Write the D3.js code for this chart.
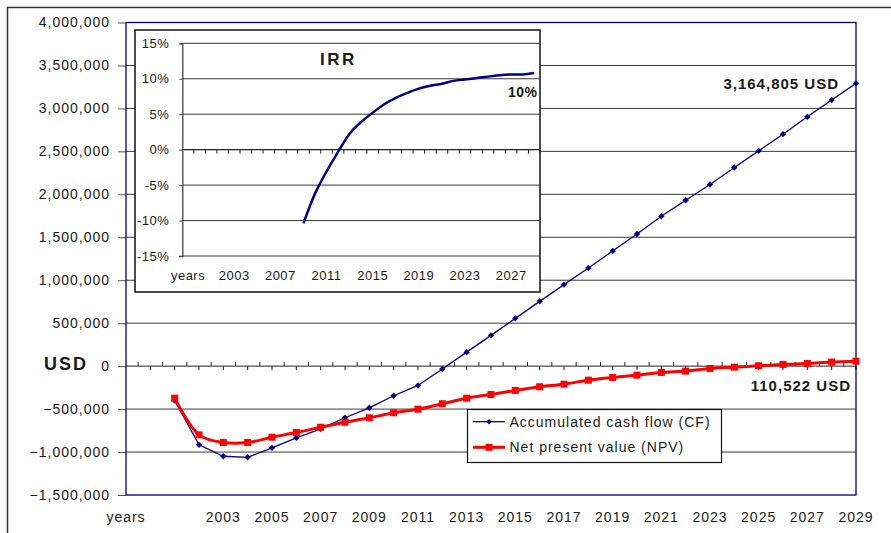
<!DOCTYPE html>
<html>
<head>
<meta charset="utf-8">
<script src="https://cdn.jsdelivr.net/npm/d3@7"></script>
<style>
  body { margin: 0; background: #fff; }
  svg text { font-family: "Liberation Sans", Arial, sans-serif; fill: #1a1a1a; }
</style>
</head>
<body>
<svg width="891" height="533"></svg>
<script>
// categories: first slot is the "years" label, then 2000..2029
const categories = ["years", "2000", "2001", "2002", "2003", "2004", "2005", "2006", "2007", "2008", "2009",
  "2010", "2011", "2012", "2013", "2014", "2015", "2016", "2017", "2018", "2019",
  "2020", "2021", "2022", "2023", "2024", "2025", "2026", "2027", "2028", "2029"];

// main chart series start in 2001
const seriesYears = ["2001", "2002", "2003", "2004", "2005", "2006", "2007", "2008", "2009", "2010",
  "2011", "2012", "2013", "2014", "2015", "2016", "2017", "2018", "2019", "2020",
  "2021", "2022", "2023", "2024", "2025", "2026", "2027", "2028", "2029"];

const cashFlow = [-400000, -916000, -1049000, -1061000, -951000, -834000, -730000, -601000, -485000, -345000,
  -225000, -33000, 163000, 358000, 556000, 754000, 949000, 1142000, 1340000, 1538000,
  1745000, 1931000, 2114000, 2312000, 2506000, 2700000, 2902000, 3097000, 3291000];

const npv = [-373000, -800000, -889000, -889000, -827000, -773000, -711000, -653000, -601000, -543000,
  -501000, -438000, -373000, -330000, -283000, -240000, -210000, -163000, -132000, -105000,
  -73000, -58000, -27000, -12000, 5000, 20000, 31000, 47000, 58000];

// IRR starts in 2009 (percent)
const irrYears = ["2009", "2010", "2011", "2012", "2013", "2014", "2015", "2016", "2017", "2018", "2019",
  "2020", "2021", "2022", "2023", "2024", "2025", "2026", "2027", "2028", "2029"];
const irr = [-10.4, -6.2, -3.1, -0.3, 2.25, 3.9, 5.2, 6.4, 7.3, 8.0, 8.6,
  9.0, 9.3, 9.7, 9.9, 10.1, 10.3, 10.5, 10.6, 10.6, 10.8];

const yTicks = [-1500000, -1000000, -500000, 0, 500000, 1000000, 1500000, 2000000, 2500000, 3000000, 3500000, 4000000];
const xTickLabels = ["years", "2003", "2005", "2007", "2009", "2011", "2013", "2015", "2017", "2019",
  "2021", "2023", "2025", "2027", "2029"];
const irrTicks = [-15, -10, -5, 0, 5, 10, 15];
const irrTickLabels = ["years", "2003", "2007", "2011", "2015", "2019", "2023", "2027"];

const legendLabels = ["Accumulated cash flow (CF)", "Net present value (NPV)"];

const svg = d3.select("svg");
const navy = "#000080";
const red = "#ff0000";
const grid = "#3a3a3a";

// outer chart frame
svg.append("rect")
  .attr("x", 7.5).attr("y", 7.5)
  .attr("width", 1000).attr("height", 1000)
  .attr("fill", "none")
  .attr("stroke", "#333")
  .attr("stroke-width", 1.5);

const plot = { left: 126, right: 856, top: 22.5, bottom: 495 };

const x = d3.scalePoint().domain(categories).range([plot.left, plot.right]);
const y = d3.scaleLinear().domain([-1500000, 4000000]).range([plot.bottom, plot.top]);
const step = x.step();

// gridlines
svg.append("g")
  .selectAll("line")
  .data(yTicks.filter((d) => d !== 0 && d !== -1500000 && d !== 4000000))
  .enter()
  .append("line")
  .attr("x1", plot.left).attr("x2", plot.right)
  .attr("y1", (d) => y(d)).attr("y2", (d) => y(d))
  .attr("stroke", grid)
  .attr("stroke-width", 1);

// y axis labels and ticks
const yAxis = svg.append("g")
  .attr("transform", `translate(${plot.left},0)`)
  .call(d3.axisLeft(y).tickValues(yTicks).tickSize(8).tickPadding(8).tickFormat(d3.format(",")));
yAxis.select(".domain").remove();
yAxis.selectAll(".tick line").attr("stroke", "#555");
yAxis.selectAll("text")
  .style("font-size", "14px")
  .style("letter-spacing", "1px")
  .attr("font-family", null)
  .attr("fill", "#1a1a1a");

// zero line with ticks
svg.append("line")
  .attr("x1", plot.left).attr("x2", plot.right)
  .attr("y1", y(0)).attr("y2", y(0))
  .attr("stroke", "#222");
svg.append("g")
  .selectAll("line")
  .data(categories.slice(1))
  .enter()
  .append("line")
  .attr("x1", (d) => x(d)).attr("x2", (d) => x(d))
  .attr("y1", y(0)).attr("y2", y(0) + 4)
  .attr("stroke", "#222");
svg.append("g")
  .selectAll("line")
  .data(categories.slice(1))
  .enter()
  .append("line")
  .attr("x1", (d) => x(d) - step / 2).attr("x2", (d) => x(d) - step / 2)
  .attr("y1", y(0) - 4).attr("y2", y(0))
  .attr("stroke", "#222");

// plot border
svg.append("rect")
  .attr("x", plot.left).attr("y", plot.top)
  .attr("width", plot.right - plot.left).attr("height", plot.bottom - plot.top)
  .attr("fill", "none")
  .attr("stroke", navy)
  .attr("stroke-width", 1.3);

// x labels
svg.append("g")
  .selectAll("text")
  .data(xTickLabels)
  .enter()
  .append("text")
  .attr("x", (d) => x(d))
  .attr("y", 522)
  .attr("text-anchor", "middle")
  .style("font-size", "14px")
  .style("letter-spacing", "1px")
  .text((d) => d);

// USD axis title
svg.append("text")
  .attr("x", 44).attr("y", 370)
  .style("font-size", "18px")
  .style("font-weight", "bold")
  .style("letter-spacing", "2px")
  .text("USD");

// series
const cfData = seriesYears.map((yr, i) => ({ year: yr, value: cashFlow[i] }));
const npvData = seriesYears.map((yr, i) => ({ year: yr, value: npv[i] }));

svg.append("path")
  .datum(cfData)
  .attr("fill", "none")
  .attr("stroke", navy)
  .attr("stroke-width", 1.3)
  .attr("d", d3.line().x((d) => x(d.year)).y((d) => y(d.value)));

svg.append("g")
  .selectAll("path")
  .data(cfData)
  .enter()
  .append("path")
  .attr("transform", (d) => `translate(${x(d.year)},${y(d.value)})`)
  .attr("d", d3.symbol(d3.symbolDiamond2, 26))
  .attr("fill", navy);

svg.append("path")
  .datum(npvData)
  .attr("fill", "none")
  .attr("stroke", red)
  .attr("stroke-width", 3)
  .attr("d", d3.line().curve(d3.curveCatmullRom).x((d) => x(d.year)).y((d) => y(d.value)));

svg.append("g")
  .selectAll("rect")
  .data(npvData)
  .enter()
  .append("rect")
  .attr("x", (d) => x(d.year) - 3.5)
  .attr("y", (d) => y(d.value) - 3.5)
  .attr("width", 7).attr("height", 7)
  .attr("fill", red);

// value annotations
svg.append("text")
  .attr("x", 839).attr("y", 89)
  .attr("text-anchor", "end")
  .style("font-size", "15px")
  .style("font-weight", "bold")
  .style("letter-spacing", "1px")
  .text("3,164,805 USD");

svg.append("text")
  .attr("x", 851).attr("y", 390.5)
  .attr("text-anchor", "end")
  .style("font-size", "15px")
  .style("font-weight", "bold")
  .style("letter-spacing", "1px")
  .text("110,522 USD");

// legend
const legend = svg.append("g");
legend.append("rect")
  .attr("x", 467.5).attr("y", 409.5)
  .attr("width", 254).attr("height", 53)
  .attr("fill", "#fff")
  .attr("stroke", "#111")
  .attr("stroke-width", 1.2);

const legendRows = legend.selectAll("g")
  .data(legendLabels)
  .enter()
  .append("g")
  .attr("transform", (d, i) => `translate(473,${421.7 + i * 25.6})`);

legendRows.append("line")
  .attr("x1", 0).attr("x2", 32)
  .attr("stroke", (d, i) => (i === 0 ? navy : red))
  .attr("stroke-width", (d, i) => (i === 0 ? 1.3 : 3));

legendRows.filter((d, i) => i === 0)
  .append("path")
  .attr("transform", "translate(16,0)")
  .attr("d", d3.symbol(d3.symbolDiamond2, 20))
  .attr("fill", navy);

legendRows.filter((d, i) => i === 1)
  .append("rect")
  .attr("x", 12.5).attr("y", -3.5)
  .attr("width", 7).attr("height", 7)
  .attr("fill", red);

legendRows.append("text")
  .attr("x", 36.5).attr("y", 5)
  .style("font-size", "14px")
  .style("letter-spacing", "1px")
  .text((d) => d);

// IRR inset
const inset = { left: 182.3, right: 540, top: 43.3, bottom: 256 };
svg.append("rect")
  .attr("x", 135).attr("y", 30)
  .attr("width", 405).attr("height", 262)
  .attr("fill", "#fff")
  .attr("stroke", "#111")
  .attr("stroke-width", 1.5);

const ix = d3.scaleBand().domain(categories).range([inset.left, inset.right]);
const iy = d3.scaleLinear().domain([-15, 15]).range([inset.bottom, inset.top]);

svg.append("g")
  .selectAll("line")
  .data(irrTicks.filter((d) => d !== 0))
  .enter()
  .append("line")
  .attr("x1", inset.left).attr("x2", inset.right)
  .attr("y1", (d) => iy(d)).attr("y2", (d) => iy(d))
  .attr("stroke", grid);

const iyAxis = svg.append("g")
  .attr("transform", `translate(${inset.left},0)`)
  .call(d3.axisLeft(iy).tickValues(irrTicks).tickSize(3).tickPadding(10).tickFormat((d) => d + "%"));
iyAxis.select(".domain").attr("stroke", "#444").attr("stroke-width", 1.3);
iyAxis.selectAll(".tick line").attr("stroke", "#444");
iyAxis.selectAll("text")
  .style("font-size", "13px")
  .style("letter-spacing", "0.5px")
  .attr("font-family", null)
  .attr("fill", "#1a1a1a");

// inset zero line with ticks at band edges
svg.append("line")
  .attr("x1", inset.left).attr("x2", inset.right)
  .attr("y1", iy(0)).attr("y2", iy(0))
  .attr("stroke", "#222")
  .attr("stroke-width", 1.2);
svg.append("g")
  .selectAll("line")
  .data(categories)
  .enter()
  .append("line")
  .attr("x1", (d) => ix(d) + ix.bandwidth()).attr("x2", (d) => ix(d) + ix.bandwidth())
  .attr("y1", iy(0)).attr("y2", iy(0) + 4)
  .attr("stroke", "#222");

svg.append("g")
  .selectAll("text")
  .data(irrTickLabels)
  .enter()
  .append("text")
  .attr("x", (d) => ix(d) + ix.bandwidth() / 2)
  .attr("y", 280)
  .attr("text-anchor", "middle")
  .style("font-size", "13px")
  .style("letter-spacing", "0.5px")
  .text((d) => d);

const irrData = irrYears.map((yr, i) => ({ year: yr, value: irr[i] }));
svg.append("path")
  .datum(irrData)
  .attr("fill", "none")
  .attr("stroke", navy)
  .attr("stroke-width", 2.5)
  .attr("d", d3.line().curve(d3.curveCatmullRom)
    .x((d) => ix(d.year) + ix.bandwidth() / 2)
    .y((d) => iy(d.value)));

svg.append("text")
  .attr("x", 320).attr("y", 65)
  .style("font-size", "17px")
  .style("font-weight", "bold")
  .style("letter-spacing", "2.5px")
  .text("IRR");

svg.append("text")
  .attr("x", 537.5).attr("y", 97)
  .attr("text-anchor", "end")
  .style("font-size", "14px")
  .style("font-weight", "bold")
  .style("letter-spacing", "0.5px")
  .text("10%");
</script>
</body>
</html>
